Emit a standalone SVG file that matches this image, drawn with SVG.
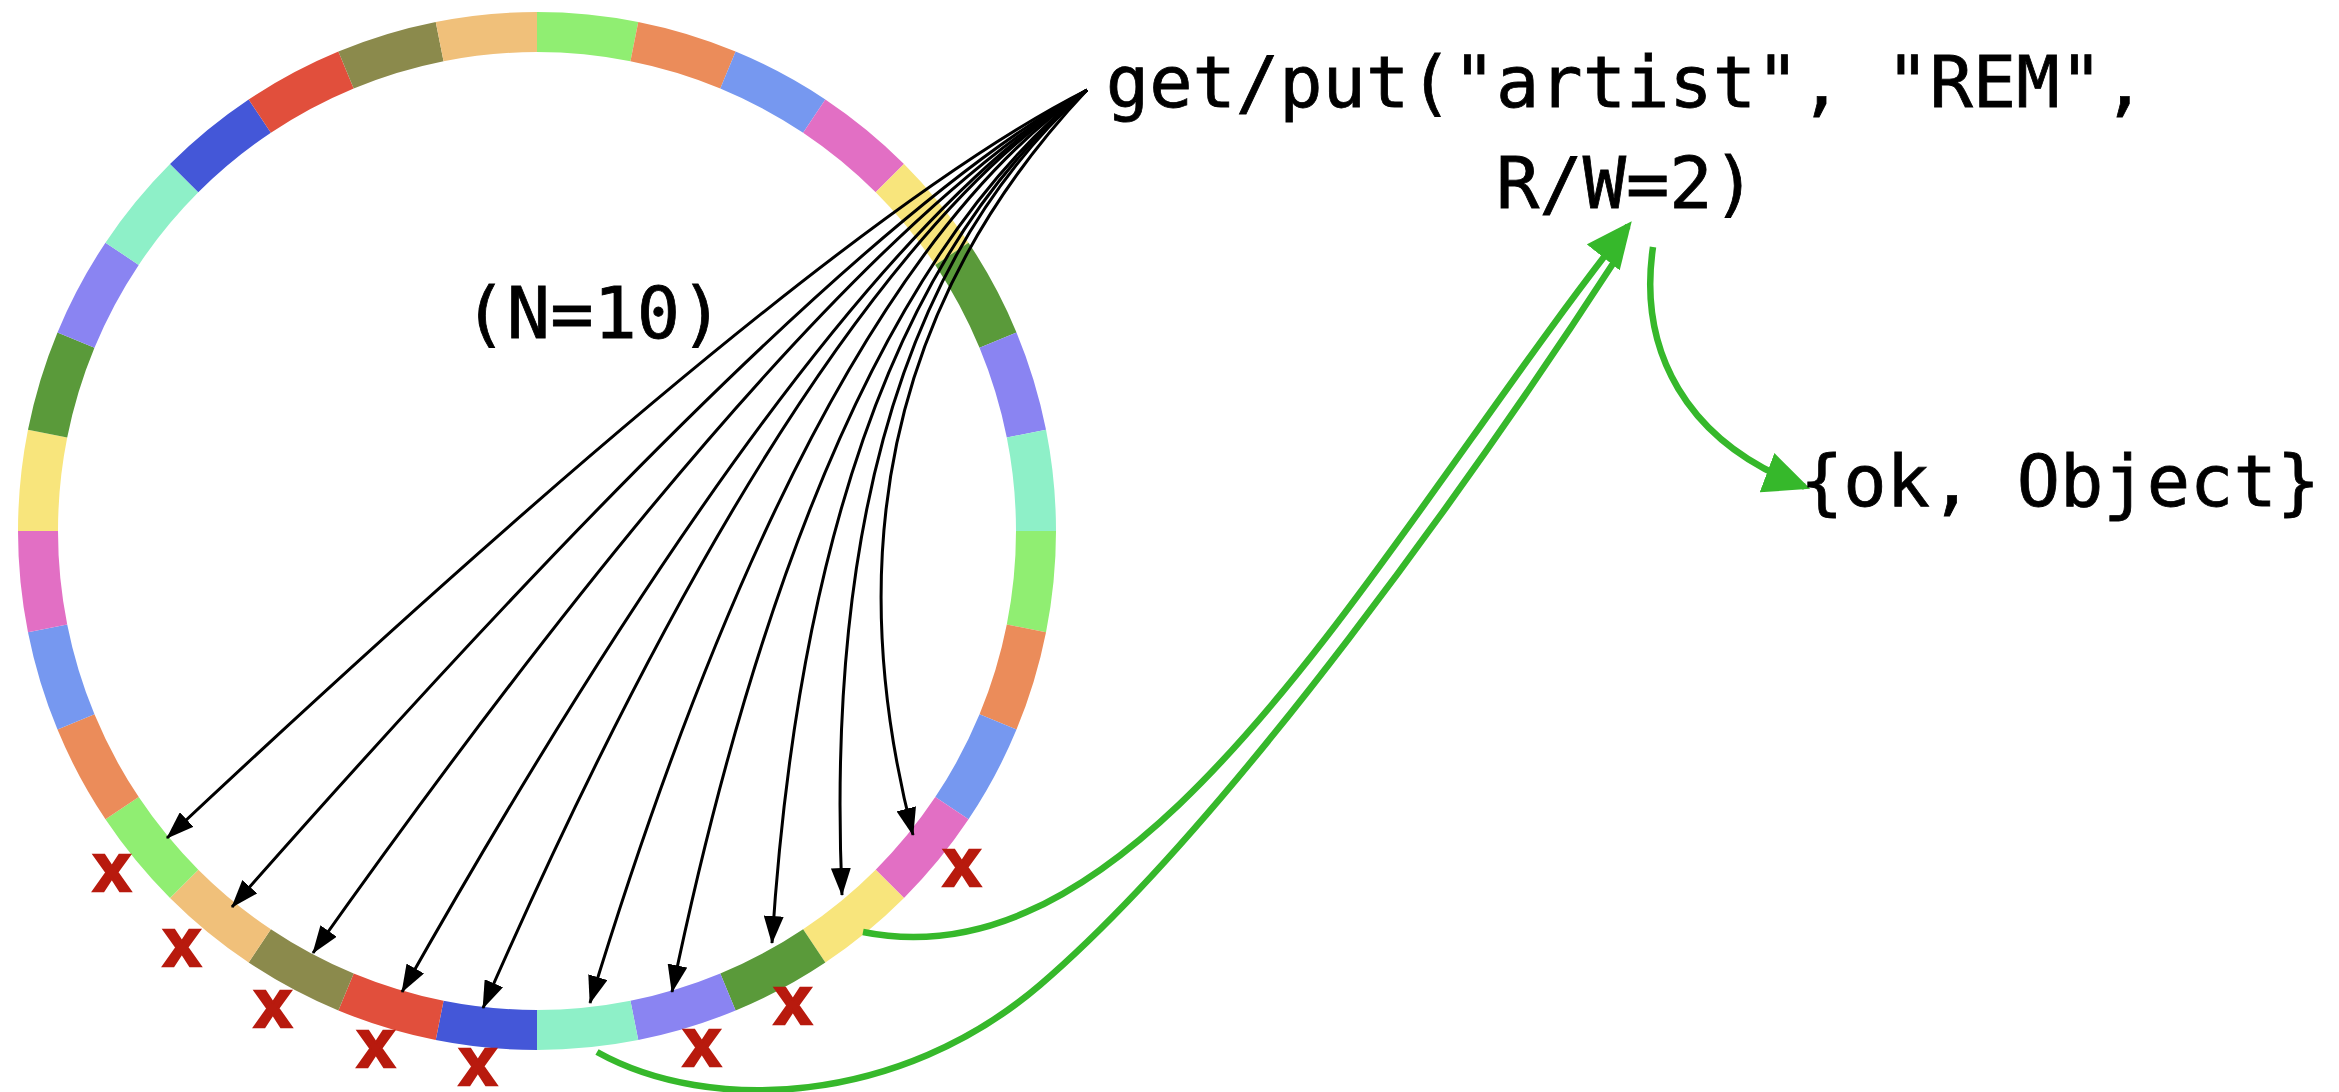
<svg xmlns="http://www.w3.org/2000/svg" width="2339" height="1092" viewBox="0 0 2339 1092">
<style>
.seg{fill:none;stroke-width:40}
.bl{fill:none;stroke:#000;stroke-width:3;marker-end:url(#ah)}
.gr{fill:none;stroke:#36b82b;stroke-width:6.5}
.t{font-family:"DejaVu Sans Mono","Liberation Mono",monospace;font-size:72px;fill:#000;stroke:#000;stroke-width:0.8}
.x{font-family:"Liberation Sans",Arial,sans-serif;font-weight:bold;font-size:68px;fill:#b81a0e;stroke:#b81a0e;stroke-width:2.5;text-anchor:middle}
</style>
<defs>
<marker id="ah" markerUnits="userSpaceOnUse" viewBox="0 0 28 20" markerWidth="28" markerHeight="20" refX="27" refY="10" orient="auto"><path d="M0,0 L28,10 L0,20 z" fill="#000"/></marker>
<marker id="gh" markerUnits="userSpaceOnUse" viewBox="0 0 46 42" markerWidth="46" markerHeight="42" refX="40" refY="21" orient="auto"><path d="M0,0 L46,21 L0,42 z" fill="#36b82b"/></marker>
</defs>
<rect width="2339" height="1092" fill="#fff"/>
<g id="ring">
<path class="seg" stroke="#90ee72" d="M537,32 A499,499 0 0 1 634.35,41.59"/>
<path class="seg" stroke="#eb8c5a" d="M634.35,41.59 A499,499 0 0 1 727.96,69.98"/>
<path class="seg" stroke="#7698f0" d="M727.96,69.98 A499,499 0 0 1 814.23,116.1"/>
<path class="seg" stroke="#e26fc4" d="M814.23,116.1 A499,499 0 0 1 889.85,178.15"/>
<path class="seg" stroke="#f8e57c" d="M889.85,178.15 A499,499 0 0 1 951.9,253.77"/>
<path class="seg" stroke="#5a9a3a" d="M951.9,253.77 A499,499 0 0 1 998.02,340.04"/>
<path class="seg" stroke="#8a84f2" d="M998.02,340.04 A499,499 0 0 1 1026.41,433.65"/>
<path class="seg" stroke="#8ef0c8" d="M1026.41,433.65 A499,499 0 0 1 1036,531"/>
<path class="seg" stroke="#90ee72" d="M1036,531 A499,499 0 0 1 1026.41,628.35"/>
<path class="seg" stroke="#eb8c5a" d="M1026.41,628.35 A499,499 0 0 1 998.02,721.96"/>
<path class="seg" stroke="#7698f0" d="M998.02,721.96 A499,499 0 0 1 951.9,808.23"/>
<path class="seg" stroke="#e26fc4" d="M951.9,808.23 A499,499 0 0 1 889.85,883.85"/>
<path class="seg" stroke="#f8e57c" d="M889.85,883.85 A499,499 0 0 1 814.23,945.9"/>
<path class="seg" stroke="#5a9a3a" d="M814.23,945.9 A499,499 0 0 1 727.96,992.02"/>
<path class="seg" stroke="#8a84f2" d="M727.96,992.02 A499,499 0 0 1 634.35,1020.41"/>
<path class="seg" stroke="#8ef0c8" d="M634.35,1020.41 A499,499 0 0 1 537,1030"/>
<path class="seg" stroke="#4457d8" d="M537,1030 A499,499 0 0 1 439.65,1020.41"/>
<path class="seg" stroke="#e14f3c" d="M439.65,1020.41 A499,499 0 0 1 346.04,992.02"/>
<path class="seg" stroke="#8b8a4c" d="M346.04,992.02 A499,499 0 0 1 259.77,945.9"/>
<path class="seg" stroke="#f0c07a" d="M259.77,945.9 A499,499 0 0 1 184.15,883.85"/>
<path class="seg" stroke="#90ee72" d="M184.15,883.85 A499,499 0 0 1 122.1,808.23"/>
<path class="seg" stroke="#eb8c5a" d="M122.1,808.23 A499,499 0 0 1 75.98,721.96"/>
<path class="seg" stroke="#7698f0" d="M75.98,721.96 A499,499 0 0 1 47.59,628.35"/>
<path class="seg" stroke="#e26fc4" d="M47.59,628.35 A499,499 0 0 1 38,531"/>
<path class="seg" stroke="#f8e57c" d="M38,531 A499,499 0 0 1 47.59,433.65"/>
<path class="seg" stroke="#5a9a3a" d="M47.59,433.65 A499,499 0 0 1 75.98,340.04"/>
<path class="seg" stroke="#8a84f2" d="M75.98,340.04 A499,499 0 0 1 122.1,253.77"/>
<path class="seg" stroke="#8ef0c8" d="M122.1,253.77 A499,499 0 0 1 184.15,178.15"/>
<path class="seg" stroke="#4457d8" d="M184.15,178.15 A499,499 0 0 1 259.77,116.1"/>
<path class="seg" stroke="#e14f3c" d="M259.77,116.1 A499,499 0 0 1 346.04,69.98"/>
<path class="seg" stroke="#8b8a4c" d="M346.04,69.98 A499,499 0 0 1 439.65,41.59"/>
<path class="seg" stroke="#f0c07a" d="M439.65,41.59 A499,499 0 0 1 537,32"/>
</g>
<g id="failures">
<text class="x" x="112" y="891">x</text>
<text class="x" x="182" y="966">x</text>
<text class="x" x="273" y="1027">x</text>
<text class="x" x="376" y="1067">x</text>
<text class="x" x="478" y="1085">x</text>
<text class="x" x="702" y="1066">x</text>
<text class="x" x="793" y="1024">x</text>
<text class="x" x="962" y="886">x</text>
</g>
<g id="connectors">
<path class="bl" d="M1087,90 Q822,223 167,838"/>
<path class="bl" d="M1087,90 Q826,232 232,907"/>
<path class="bl" d="M1087,90 Q808,254 313,953"/>
<path class="bl" d="M1087,90 Q820,252 402,992"/>
<path class="bl" d="M1087,90 Q806,270 483,1008"/>
<path class="bl" d="M1087,90 Q810,281 590,1003"/>
<path class="bl" d="M1087,90 Q815,303 672,992"/>
<path class="bl" d="M1087,90 Q812,320 772,943"/>
<path class="bl" d="M1087,90 Q818,330 842,895"/>
<path class="bl" d="M1087,90 Q800,395 913,835"/>
<path class="gr" d="M597,1052 C710,1115 900,1105 1040,985 C1229.8,822.3 1481.8,465.8 1618,256"/>
<path class="gr" marker-end="url(#gh)" d="M863,932 C1150,990 1380,540 1628,226"/>
<path class="gr" marker-end="url(#gh)" d="M1653,247 C1638,350 1685,442 1804.5,486.7"/>
</g>
<g id="label-n">
<text class="t" x="593.5" y="338" text-anchor="middle">(N=10)</text>
</g>
<g id="request">
<text class="t" x="1626" y="107" text-anchor="middle">get/put("artist", "REM",</text>
<text class="t" x="1626" y="208" text-anchor="middle">R/W=2)</text>
</g>
<g id="result">
<text class="t" x="2060" y="506" text-anchor="middle">{ok, Object}</text>
</g>
</svg>
